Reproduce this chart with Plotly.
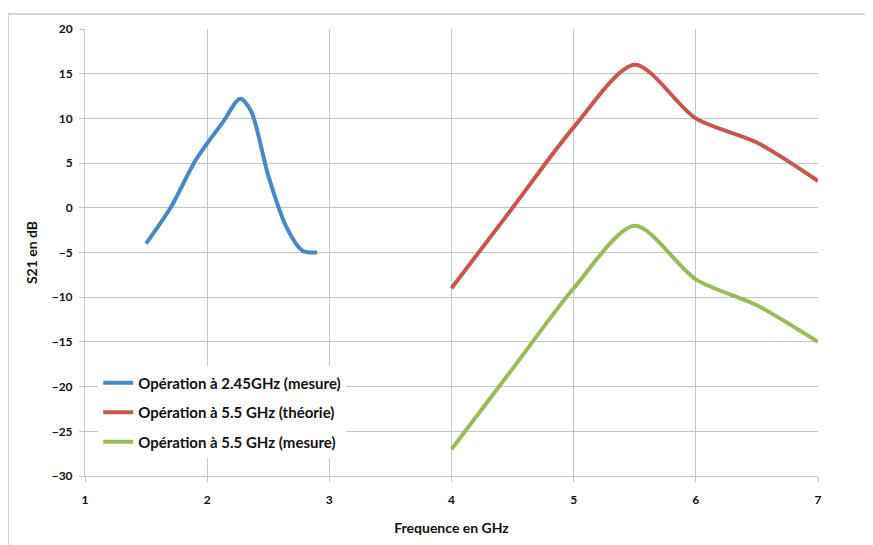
import plotly.graph_objects as go

# Data
x_blue = [1.5, 1.7, 1.9, 2.0, 2.13, 2.27, 2.36, 2.5, 2.65, 2.78, 2.9]
y_blue = [-4.0, 0.0, 5.2, 7.2, 9.6, 12.2, 10.8, 3.6, -2.2, -4.8, -5.0]

x_red = [4.0, 4.5, 5.0, 5.5, 6.0, 6.5, 7.0]
y_red = [-9.0, 0.0, 9.0, 16.0, 10.0, 7.3, 3.0]

x_green = [4.0, 4.5, 5.0, 5.5, 6.0, 6.5, 7.0]
y_green = [-27.0, -18.0, -9.0, -2.0, -8.0, -10.9, -15.0]

names = ["Opération à 2.45GHz (mesure)",
         "Opération à 5.5 GHz (théorie)",
         "Opération à 5.5 GHz (mesure)"]
colors = ["#4a87c7", "#c9554f", "#9bbb59"]

x_ticks = [1, 2, 3, 4, 5, 6, 7]
y_ticks = [-30, -25, -20, -15, -10, -5, 0, 5, 10, 15, 20]

FONT = "Lato"

fig = go.Figure()
for i, (xs, ys, nm, c) in enumerate([(x_blue, y_blue, names[0], colors[0]),
                                     (x_red, y_red, names[1], colors[1]),
                                     (x_green, y_green, names[2], colors[2])]):
    fig.add_trace(go.Scatter(x=xs, y=ys, name=nm, mode="lines", legendgroup=f"g{i}",
                             line=dict(color=c, width=4, shape="spline", smoothing=0.8)))

grid = "#c4c4c4"
fig.update_layout(
    width=873, height=545,
    margin=dict(l=77, r=63, t=21, b=77),
    paper_bgcolor="white", plot_bgcolor="white",
    font=dict(family=FONT, size=12, color="#111111"),
    showlegend=True,
    legend=dict(x=0.018, y=0.245, xanchor="left", yanchor="top",
                bgcolor="white", borderwidth=0,
                font=dict(family=FONT, size=15, color="#111111", weight="bold"),
                tracegroupgap=7, itemwidth=30),
    xaxis=dict(range=[1, 7], tickvals=x_ticks, showgrid=True, gridcolor=grid, gridwidth=1,
               showline=True, linecolor=grid, linewidth=1, ticks="outside", ticklen=5,
               tickcolor=grid, zeroline=False, ticklabelstandoff=8,
               tickfont=dict(family=FONT, size=12, weight="bold"),
               title=dict(text="Frequence en GHz", standoff=16,
                          font=dict(family=FONT, size=14, weight="bold"))),
    yaxis=dict(range=[-30, 20], tickvals=y_ticks, showgrid=True, gridcolor=grid, gridwidth=1,
               showline=True, linecolor=grid, linewidth=1, ticks="outside", ticklen=5,
               tickcolor=grid, zeroline=False, ticklabelstandoff=4,
               tickfont=dict(family=FONT, size=12, weight="bold"),
               title=dict(text="S21 en dB", standoff=10,
                          font=dict(family=FONT, size=14, weight="bold"))),
)

# outer chart frame (top and left edges visible)
fig.add_shape(type="line", xref="paper", yref="paper",
              x0=-0.105, x1=1.2, y0=1.0336, y1=1.0336,
              line=dict(color="#c8c8c8", width=1.5), layer="below")
fig.add_shape(type="line", xref="paper", yref="paper",
              x0=-0.105, x1=-0.105, y0=-0.3, y1=1.0336,
              line=dict(color="#c8c8c8", width=1.5), layer="below")

fig.write_html("out.html")
